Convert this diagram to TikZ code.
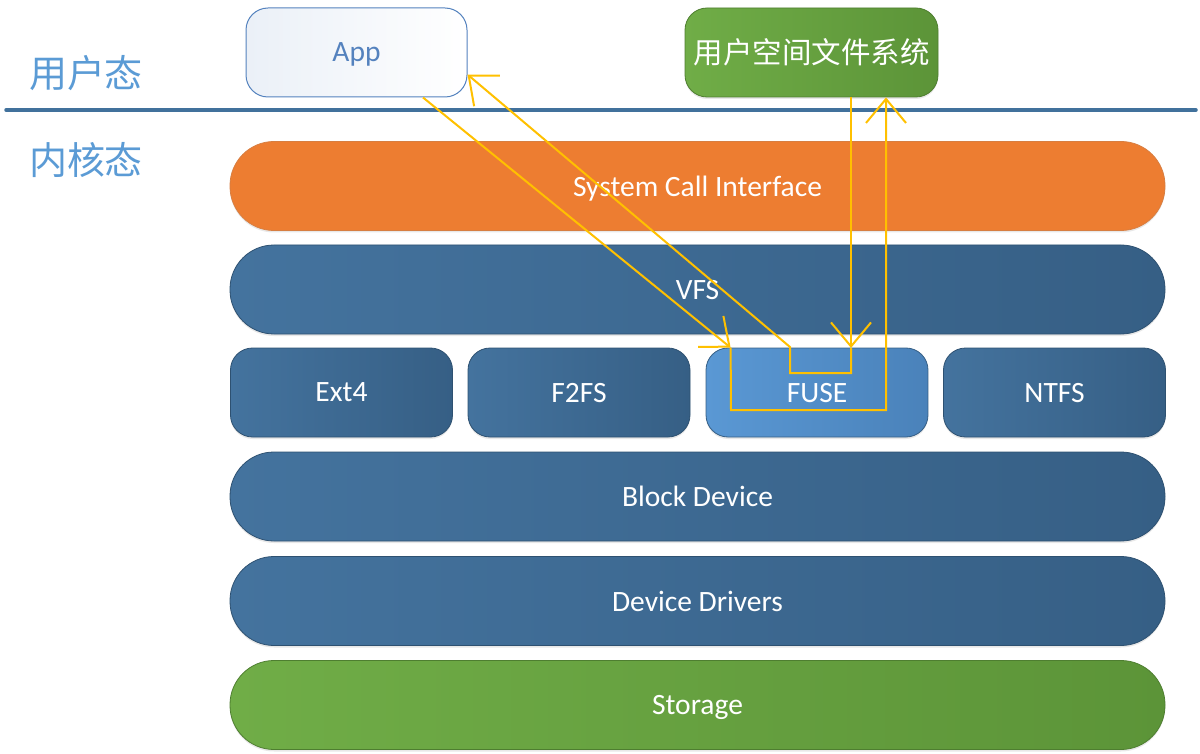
\documentclass[tikz,border=0pt]{standalone}
\usepackage{fontspec}
\setmainfont{Carlito}
\newfontfamily\cjk{Noto Sans CJK SC}
\usepackage{tikz}
\usetikzlibrary{arrows.meta, shadows}
\definecolor{kblue}{RGB}{54,95,133}
\definecolor{kbluelt}{RGB}{68,115,158}
\definecolor{fuseblue}{RGB}{90,152,212}
\definecolor{fusebluedk}{RGB}{74,130,186}
\definecolor{sysorange}{RGB}{237,125,49}
\definecolor{storgreen}{RGB}{112,173,71}
\definecolor{storgreendk}{RGB}{92,148,56}
\definecolor{modeblue}{RGB}{91,155,213}
\definecolor{sepblue}{RGB}{65,113,156}
\definecolor{flowyellow}{RGB}{255,192,0}
\definecolor{appblue}{RGB}{84,130,190}

\tikzset{
  shade/.style={drop shadow={opacity=0.18, shadow xshift=0pt, shadow yshift=-2pt}},
  layer/.style={minimum width=935pt, minimum height=89pt, rounded corners=44pt, text=white, text depth=0pt, shade},
  fsbox/.style={minimum width=222pt, minimum height=89pt, rounded corners=22pt, text=white, text depth=0pt, shade},
  bluelayer/.style={left color=kbluelt, right color=kblue, draw=kblue!85!black, line width=0.8pt},
  fuselayer/.style={left color=fuseblue, right color=fusebluedk, draw=kblue, line width=0.8pt},
  orangelayer/.style={fill=sysorange, draw=sysorange!80!gray, line width=0.8pt},
  greenlayer/.style={left color=storgreen, right color=storgreendk, draw=storgreendk!85!black, line width=0.8pt},
  mode/.style={text=modeblue, font=\cjk\fontsize{38}{44}\selectfont},
  flow/.style={draw=flowyellow, line width=2pt},
  flowarrow/.style={flow, -{Straight Barb[length=24pt, width=40pt, line width=2pt]}}
}

\begin{document}
\begin{tikzpicture}[x=1pt, y=-1pt, font=\fontsize{29.5}{34}\selectfont]
  \useasboundingbox (0,0) rectangle (1200,754);
  % user / kernel split
  \node[mode] (user) at (86,73) {用户态};
  \node[mode] (kernel) at (86,160) {内核态};
  \draw[sepblue, line width=3.5pt, line cap=round] (6,110) -- (1196,110);
  % user space
  \node[minimum width=221pt, minimum height=89pt, rounded corners=22pt,
        left color=appblue!12, right color=white, draw=appblue, line width=1pt,
        text=appblue, text depth=0pt] (app) at (356.5,52.5) {App};
  \node[minimum width=253pt, minimum height=89pt, rounded corners=22pt, text=white,
        greenlayer, shade, font=\cjk\fontsize{29.5}{34}\selectfont] (ufs) at (811.5,52.5) {用户空间文件系统};
  % kernel layers
  \foreach \nm/\lbl/\yy/\sty in {
    sci/System Call Interface/186/orangelayer,
    vfs/VFS/289.5/bluelayer,
    blk/Block Device/496.5/bluelayer,
    drv/Device Drivers/601/bluelayer,
    sto/Storage/705/greenlayer}{
    \node[layer, \sty] (\nm) at (697.5,\yy) {\lbl};
  }
  % file systems
  \foreach \nm/\lbl/\xx/\sty in {
    ext/Ext4/341.5/bluelayer,
    f2fs/F2FS/579/bluelayer,
    fuse/FUSE/817/fuselayer,
    ntfs/NTFS/1054.5/bluelayer}{
    \node[fsbox, \sty] (\nm) at (\xx,392.5) {\lbl};
  }
  % request path
  \coordinate (appout) at ([xshift=66.5pt]app.south);
  \coordinate (fusein) at ([xshift=25pt]fuse.north west);
  \coordinate (loopl) at (731,410);
  \coordinate (loopr) at (886,410);
  \coordinate (ufsin) at ([xshift=74.5pt]ufs.south);
  \draw[flowarrow] (appout) -- (fusein);
  \draw[flowarrow] (fusein) -- (loopl) -- (loopr) -- (ufsin);
  % reply path
  \coordinate (ufsout) at ([xshift=39.5pt]ufs.south);
  \coordinate (fuseret) at (851,348);
  \coordinate (retr) at (851,373);
  \coordinate (retl) at (790,373);
  \coordinate (retup) at (790,347);
  \coordinate (appin) at ([yshift=-22pt]app.east);
  \draw[flowarrow] (ufsout) -- (fuseret);
  \draw[flowarrow] (fuseret) -- (retr) -- (retl) -- (retup) -- (appin);
\end{tikzpicture}
\end{document}
